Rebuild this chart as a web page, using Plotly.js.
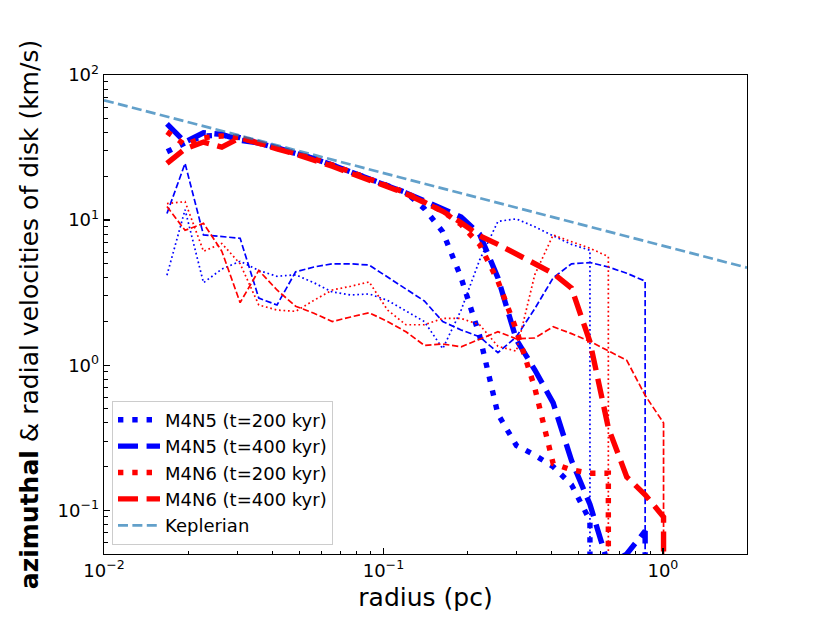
<!DOCTYPE html>
<html>
<head>
<meta charset="utf-8">
<script src="https://cdn.plot.ly/plotly-3.0.1.min.js"></script>
<style>body{margin:0;background:#fff;}</style>
</head>
<body>
<div id="disk-graph" style="width:830px;height:623px;"></div>
<script>
// radial bins (pc)
var radius = [0.0168, 0.0195, 0.0227, 0.0264, 0.0307, 0.0358, 0.0416, 0.0485, 0.0564, 0.0656,
              0.0764, 0.0889, 0.1034, 0.1204, 0.1401, 0.1630, 0.1897, 0.2208, 0.2569, 0.2990,
              0.3479, 0.4049, 0.4711, 0.5483, 0.6380, 0.7425, 0.8640, 1.0055];

// M4N5, t=200 kyr
var m4n5_200_vphi = [29.6, 34, 38, 38.5, 37, 34, 31.5, 29, 26.5, 24, 21.5, 19.5, 17.5, 15.5,
                     12, 8.3, 4.0, 1.6, 0.46, 0.28, 0.24, 0.2, 0.15, 0.085];
var m4n5_200_vr = [4.17, 11.8, 3.7, 4.6, 5.2, 4.5, 4.1, 4.2, 3.7, 3.2, 3.05, 3.1, 2.8, 2.35,
                   2.0, 1.3, 2.4, 5.3, 9.8, 10.2, 9.0, 7.8, 6.8, 6.2];
// M4N5, t=400 kyr
var m4n5_400_vphi = [46, 34.5, 40, 39, 35.5, 34, 31.5, 29, 26.5, 24, 21.5, 19.5, 17.5, 15.4,
                     13.6, 11.9, 10.5, 8.0, 4.0, 1.5, 0.93, 0.55, 0.22, 0.11, 0.042, 0.05, 0.072];
var m4n5_400_vr = [11.1, 24.6, 7.9, 7.7, 7.5, 2.9, 2.6, 4.4, 4.75, 5.0, 5.0, 4.9, 4.05, 3.35,
                   2.77, 2.0, 1.75, 1.57, 1.22, 1.57, 2.45, 4.0, 5.0, 5.1, 4.75, 4.3, 3.8];
// M4N6, t=200 kyr
var m4n6_200_vphi = [40.6, 33, 37, 38, 37, 34, 31.5, 29, 26.5, 24, 21.5, 19.5, 17.5, 15.4,
                     13.3, 11.5, 9.3, 6.8, 3.8, 1.75, 0.7, 0.21, 0.19, 0.18, 0.18];
var m4n6_200_vr = [13.0, 13.4, 6.1, 6.9, 5.0, 2.6, 2.4, 2.35, 2.8, 3.3, 3.5, 3.75, 2.4, 1.9,
                   1.9, 2.1, 2.1, 1.9, 1.35, 1.25, 4.2, 7.9, 7.1, 6.4, 5.6];
// M4N6, t=400 kyr
var m4n6_400_vphi = [24.6, 31, 34.5, 31.8, 37, 33.5, 31, 28.5, 26, 23.5, 21, 19, 17, 15.2,
                     13.3, 11.5, 9.6, 7.8, 6.8, 5.8, 5.0, 4.3, 3.4, 1.45, 0.37, 0.17, 0.128, 0.09];
var m4n6_400_vr = [12.4, 8.5, 9.5, 6.1, 2.7, 4.5, 3.3, 2.55, 2.28, 2.0, 2.15, 2.3, 2.0, 1.7,
                   1.37, 1.4, 1.34, 1.5, 1.7, 1.52, 1.54, 1.84, 1.65, 1.46, 1.25, 1.08, 0.62, 0.4];

var kepler_r = [0.01, 2];
var kepler_v = [67, 4.7];

// velocity beyond the disk edge (drawn as a drop off the axis)
var cutoff = 1e-3;

var xTickVals = [0.01, 0.1, 1];
var xTickText = ['10<sup>\u22122</sup>', '10<sup>\u22121</sup>', '10<sup>0</sup>'];
var yTickVals = [0.1, 1, 10, 100];
var yTickText = ['10<sup>\u22121</sup>', '10<sup>0</sup>', '10<sup>1</sup>', '10<sup>2</sup>'];
var xMinorVals = [0.02, 0.03, 0.04, 0.05, 0.06, 0.07, 0.08, 0.09,
                  0.2, 0.3, 0.4, 0.5, 0.6, 0.7, 0.8, 0.9, 2];
var yMinorVals = [0.06, 0.07, 0.08, 0.09, 0.2, 0.3, 0.4, 0.5, 0.6, 0.7, 0.8, 0.9,
                  2, 3, 4, 5, 6, 7, 8, 9, 20, 30, 40, 50, 60, 70, 80, 90];

var FONT = 'DejaVu Sans, Liberation Sans, sans-serif';

function profile(vals)
{
    var x = radius.slice(0, vals.length);
    var y = vals.slice();
    x.push(x[x.length - 1]);
    y.push(cutoff);
    return {x: x, y: y};
}

function makeTrace(vals, name, group, color, width, dash, legend)
{
    var p = profile(vals);
    return {
        x: p.x,
        y: p.y,
        type: 'scatter',
        mode: 'lines',
        name: name,
        legendgroup: group,
        showlegend: legend,
        line: {color: color, width: width, dash: dash}
    };
}

var THICK = 5.4, THIN = 1.7;
var thickDot = '5.4px,8.9px', thickDash = '20px,8.6px';
var thinDot = '1.7px,2.8px', thinDash = '6.3px,2.7px';

var traces = [
    makeTrace(m4n5_200_vphi, 'M4N5 (t=200 kyr)', 'a', '#0000ff', THICK, thickDot, true),
    makeTrace(m4n5_200_vr, 'M4N5 (t=200 kyr)', 'a', '#0000ff', THIN, thinDot, false),
    makeTrace(m4n5_400_vphi, 'M4N5 (t=400 kyr)', 'b', '#0000ff', THICK, thickDash, true),
    makeTrace(m4n5_400_vr, 'M4N5 (t=400 kyr)', 'b', '#0000ff', THIN, thinDash, false),
    makeTrace(m4n6_200_vphi, 'M4N6 (t=200 kyr)', 'c', '#ff0000', THICK, thickDot, true),
    makeTrace(m4n6_200_vr, 'M4N6 (t=200 kyr)', 'c', '#ff0000', THIN, thinDot, false),
    makeTrace(m4n6_400_vphi, 'M4N6 (t=400 kyr)', 'd', '#ff0000', THICK, thickDash, true),
    makeTrace(m4n6_400_vr, 'M4N6 (t=400 kyr)', 'd', '#ff0000', THIN, thinDash, false),
    {
        x: kepler_r,
        y: kepler_v,
        type: 'scatter',
        mode: 'lines',
        name: 'Keplerian',
        legendgroup: 'e',
        opacity: 0.7,
        line: {color: '#1f77b4', width: 2.7, dash: '10px,4.4px'}
    }
];

var axisCommon = {
    type: 'log',
    showgrid: false,
    zeroline: false,
    showline: true,
    mirror: true,
    linecolor: '#000',
    linewidth: 1.3,
    ticks: 'inside',
    ticklen: 6,
    tickwidth: 1.3,
    tickcolor: '#000',
    tickmode: 'array',
    tickfont: {family: FONT, size: 18, color: '#000'}
};

var layout = {
    width: 830,
    height: 623,
    paper_bgcolor: '#fff',
    plot_bgcolor: '#fff',
    showlegend: true,
    margin: {l: 104, r: 83, t: 75, b: 69},
    xaxis: Object.assign({}, axisCommon, {
        range: [Math.log10(0.01), Math.log10(2)],
        tickvals: xTickVals,
        ticktext: xTickText,
        minor: {tickmode: 'array', tickvals: xMinorVals, ticks: 'inside', ticklen: 3.5,
                tickwidth: 1, tickcolor: '#000', showgrid: false},
        title: {text: 'radius (pc)', font: {family: FONT, size: 25, color: '#000'}, standoff: 8}
    }),
    yaxis: Object.assign({}, axisCommon, {
        range: [Math.log10(0.05), Math.log10(100)],
        tickvals: yTickVals,
        ticktext: yTickText,
        minor: {tickmode: 'array', tickvals: yMinorVals, ticks: 'inside', ticklen: 3.5,
                tickwidth: 1, tickcolor: '#000', showgrid: false},
        title: {text: '<b>azimuthal</b> & radial velocities of disk (km/s)',
                font: {family: FONT, size: 25, color: '#000'}, standoff: 12}
    }),
    legend: {
        x: 0.0124,
        y: 0.0198,
        xanchor: 'left',
        yanchor: 'bottom',
        bgcolor: 'rgba(255,255,255,0.8)',
        bordercolor: '#cccccc',
        borderwidth: 1,
        tracegroupgap: 0,
        itemwidth: 42,
        font: {family: FONT, size: 18, color: '#000'}
    }
};

Plotly.newPlot('disk-graph', traces, layout, {displayModeBar: false, staticPlot: true});
</script>
</body>
</html>
